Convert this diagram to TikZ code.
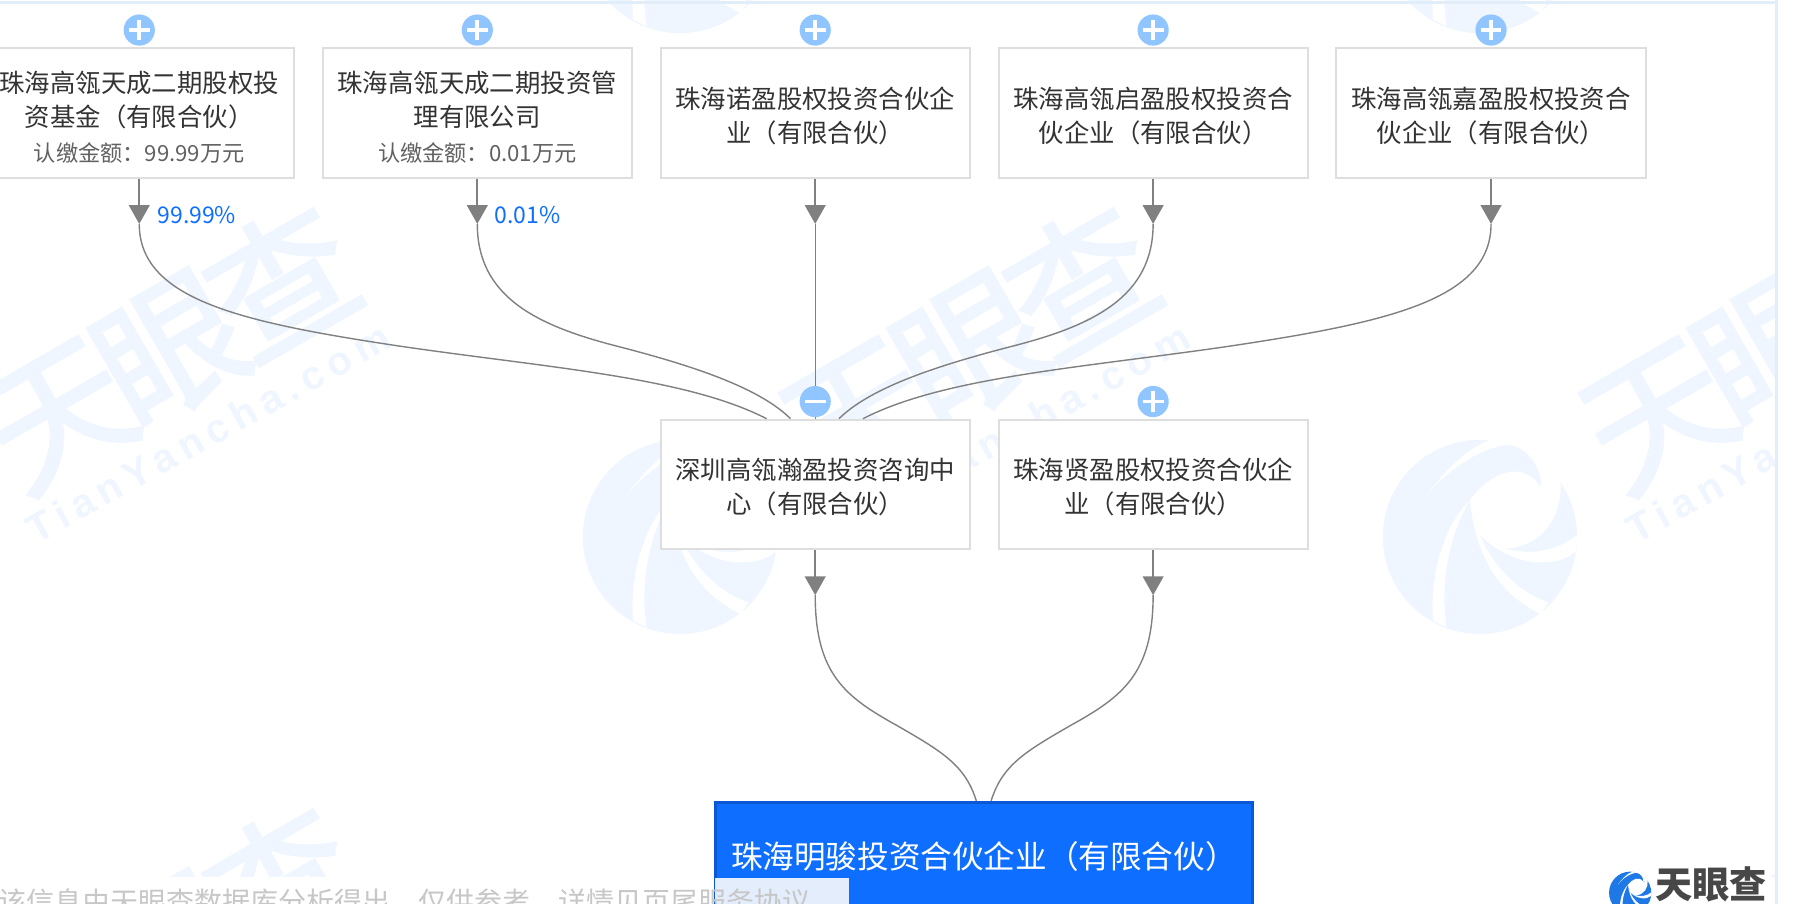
\documentclass[tikz,border=0pt]{standalone}
\usepackage{fontspec}
\usetikzlibrary{arrows.meta}
\setmainfont{Noto Sans CJK SC}
\newfontfamily\wmlatin[LetterSpace=18]{Liberation Sans}
\newfontfamily\wmheavy[FakeBold=2]{Noto Sans CJK SC}
\definecolor{wm}{HTML}{EFF6FF}
\definecolor{conn}{HTML}{808080}
\definecolor{boxline}{HTML}{DEDEDE}
\definecolor{btn}{HTML}{90C5FF}
\definecolor{tblue}{HTML}{0D6EFF}
\definecolor{tedge}{HTML}{0A58D6}
\definecolor{bandc}{HTML}{E1EDF8}
\definecolor{overlayc}{HTML}{E3EDFB}
\definecolor{logoblue}{HTML}{1E78E6}
\newcommand{\tylogo}[4]{%
  \begin{scope}[shift={(#1,#2)},x=#3,y=-#3]
  \begin{scope}[shift={(-300,-770)}]
    \fill[#4] (300,770) circle (290);
    \fill[white] (330,480) -- (620,480) -- (620,770) -- (595,760) .. controls (590,700) and (570,640) .. (540,600) -- (480,620) .. controls (490,570) and (440,495) .. (380,495) -- cycle;
    \fill[white] (270,660) .. controls (320,590) and (420,530) .. (480,620) -- (540,600) .. controls (550,700) and (490,800) .. (375,805) -- (300,765) -- cycle;
    \fill[white] (375,805) .. controls (450,825) and (530,815) .. (595,760) -- (585,815) .. controls (520,865) and (400,860) .. (300,765) -- cycle;
    \fill[white] (300,765) .. controls (340,860) and (420,940) .. (505,965) -- (480,1000) .. controls (380,950) and (290,860) .. (270,660) -- cycle;
    \fill[white] (270,660) .. controls (210,760) and (180,900) .. (200,1040) -- (160,1020) .. controls (150,880) and (190,740) .. (270,660) -- cycle;
    \fill[white] (130,660) .. controls (180,590) and (250,510) .. (330,480) -- (380,495) .. controls (280,510) and (180,590) .. (130,660) -- cycle;
  \end{scope}
  \end{scope}}
\tikzset{
  holder/.style={draw=boxline,line width=1pt,fill=white,minimum width=154.6pt,minimum height=64.8pt,inner sep=0pt,align=center,text=black!80,
    font=\fontsize{12.7pt}{17.1pt}\selectfont},
  link/.style={draw=conn,line width=0.7pt},
  stem/.style={draw=conn,line width=0.8pt,-{Triangle[length=9.4pt,width=10.4pt,fill=conn]}},
  btnbase/.style={circle,fill=btn,minimum size=15.6pt,inner sep=0pt},
  plusbtn/.style={btnbase,path picture={\draw[white,line width=1.8pt] ([xshift=-5.2pt]path picture bounding box.center) -- ([xshift=5.2pt]path picture bounding box.center) ([yshift=-5.2pt]path picture bounding box.center) -- ([yshift=5.2pt]path picture bounding box.center);}},
  minusbtn/.style={btnbase,path picture={\draw[white,line width=1.8pt] ([xshift=-5.2pt]path picture bounding box.center) -- ([xshift=5.2pt]path picture bounding box.center);}},
  pct/.style={anchor=west,inner sep=0pt,text=tblue,font=\fontsize{11.5pt}{14pt}\selectfont},
  wmcjk/.style={rotate=30,text=wm,inner sep=0pt,font=\fontsize{72pt}{72pt}\selectfont\wmheavy},
  wmsite/.style={rotate=29,text=wm,inner sep=0pt,font=\fontsize{20pt}{20pt}\selectfont\wmlatin\bfseries}
}
\newcommand{\subt}[1]{{\fontsize{11.1pt}{12pt}\selectfont\color{black!62}#1}}
\newcommand{\toptwo}{\rule{0pt}{13.4pt}}
\newcommand{\topthree}{\rule{0pt}{15pt}}
\begin{document}
\begin{tikzpicture}[x=0.5712pt,y=-0.5712pt]
\path[use as bounding box] (0,0) rectangle (1570.4,791.3);
\clip (0,0) rectangle (1570.4,791.3);
\fill[white] (0,0) rectangle (1570.4,791.3);
% watermarks
\foreach \i/\ox/\oy in {a/0/0,b/700.3/0,c/1400.6/0,d/0/526,e/700.3/526,f/1400.6/526}{
  \node[wmcjk] (wm\i) at (148+\ox,304+\oy) {天\hspace{-7pt}眼\hspace{-7pt}查};
  \node[wmsite] (ws\i) at (182+\ox,379+\oy) {TianYancha.com};
}
\tylogo{595.2}{470}{0.1674pt}{wm}
\tylogo{1295.5}{470}{0.1674pt}{wm}
\tylogo{595.2}{-56}{0.1674pt}{wm}
\tylogo{1295.5}{-56}{0.1674pt}{wm}
\fill[white] (0,767.5) rectangle (1570.4,791.3);
\fill[white] (1555,0) rectangle (1570.4,791.3);
\fill[bandc] (0,1) rectangle (1555,3.5);
\fill[bandc] (1554,0) rectangle (1556.5,791.3);
% boxes
\node[holder] (b1) at (121.9,99) {\topthree 珠海高瓴天成二期股权投\\资基金（有限合伙）\\[0.4pt]\subt{认缴金额：99.99万元}};
\node[holder] (b2) at (417.8,99) {\topthree 珠海高瓴天成二期投资管\\理有限公司\\[0.4pt]\subt{认缴金额：0.01万元}};
\node[holder] (b3) at (713.6,99) {\toptwo 珠海诺盈股权投资合伙企\\业（有限合伙）};
\node[holder] (b4) at (1009.4,99) {\toptwo 珠海高瓴启盈股权投资合\\伙企业（有限合伙）};
\node[holder] (b5) at (1305.2,99) {\toptwo 珠海高瓴嘉盈股权投资合\\伙企业（有限合伙）};
\node[holder] (m1) at (713.6,424.2) {\toptwo 深圳高瓴瀚盈投资咨询中\\心（有限合伙）};
\node[holder] (m2) at (1009.4,424.2) {\toptwo 珠海贤盈股权投资合伙企\\业（有限合伙）};
\node[draw=tedge,line width=1.6pt,fill=tblue,text=white,minimum width=268.6pt,minimum height=53.7pt,inner xsep=7.7pt,inner ysep=0pt,text width=253pt,align=left,font=\fontsize{15.8pt}{18pt}\selectfont] (target) at (861.4,749.5) {珠海明骏投资合伙企业（有限合伙）};
% coordinates
\coordinate (t1) at (121.9,196);
\coordinate (t2) at (417.8,196);
\coordinate (t3) at (713.6,196);
\coordinate (t4) at (1009.4,196);
\coordinate (t5) at (1305.2,196);
\coordinate (t6) at (713.6,521);
\coordinate (t7) at (1009.4,521);
\coordinate (e1) at (671,366.5);
\coordinate (e2) at (692,366.5);
\coordinate (e4) at (734.4,366.5);
\coordinate (e5) at (755.4,366.5);
\coordinate (e6) at (854.6,701);
\coordinate (e7) at (867.6,701);
% connectors
\draw[link] (t1) .. controls (121.9,262) and (210,282) .. (350,303) .. controls (480,322) and (600,330) .. (e1);
\draw[link] (t2) .. controls (417.8,260) and (470,285) .. (540,303) .. controls (610,321) and (665,340) .. (e2);
\draw[link] (t3) -- (m1.north);
\draw[link] (t4) .. controls (1009.4,260) and (956.4,285) .. (886.4,303) .. controls (816.4,321) and (761.4,340) .. (e4);
\draw[link] (t5) .. controls (1305.2,262) and (1216.4,282) .. (1076.4,303) .. controls (946.4,322) and (826.4,330) .. (e5);
\draw[link] (t6) .. controls (713.6,590) and (740,610) .. (785,635) .. controls (825,658) and (845,670) .. (e6);
\draw[link] (t7) .. controls (1009.4,590) and (982.2,610) .. (937.2,635) .. controls (897.2,658) and (877.2,670) .. (e7);
\foreach \a/\b in {b1/t1,b2/t2,b3/t3,b4/t4,b5/t5,m1/t6,m2/t7}{
  \draw[stem] (\a.south) -- (\b);
}
% buttons
\node[plusbtn] (p1) at (121.9,26.3) {};
\node[plusbtn] (p2) at (417.8,26.3) {};
\node[plusbtn] (p3) at (713.6,26.3) {};
\node[plusbtn] (p4) at (1009.4,26.3) {};
\node[plusbtn] (p5) at (1305.2,26.3) {};
\node[minusbtn] (p6) at (713.6,351.5) {};
\node[plusbtn] (p7) at (1009.4,351.5) {};
% percentages
\node[pct] (l1) at (137.5,188) {99.99\%};
\node[pct] (l2) at (432.5,188) {0.01\%};
% footer
\fill[overlayc] (626,768.6) rectangle (743,791.3);
\node[text=black!22,inner sep=0pt,font=\fontsize{14pt}{14pt}\selectfont] (foot) at (354,790) {该信息由天眼查数据库分析得出，仅供参考，详情见页尾服务协议};
\tylogo{1427}{781.5}{0.03644pt}{logoblue}
\node[text=black!72,inner sep=0pt,font=\fontsize{18.6pt}{20pt}\selectfont\bfseries] (brand) at (1498,774) {天眼查};
\end{tikzpicture}
\end{document}
